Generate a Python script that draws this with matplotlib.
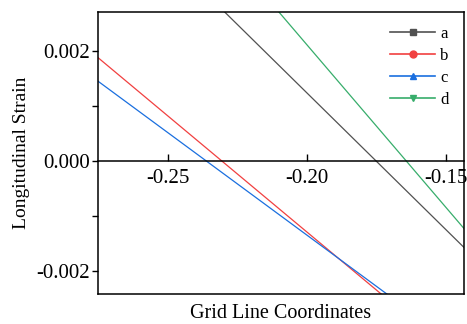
import matplotlib
matplotlib.use("Agg")
import matplotlib.pyplot as plt
from matplotlib.lines import Line2D
from matplotlib.ticker import FormatStrFormatter, MultipleLocator

plt.rcParams['font.family'] = ['Liberation Serif', 'DejaVu Serif']
plt.rcParams['axes.unicode_minus'] = False

# data (straight lines, endpoints)
x_vals = [-0.28, -0.14]
series_names = ['a', 'b', 'c', 'd']
a_vals = [0.00519, -0.00174]
b_vals = [0.00207, -0.00381]
c_vals = [0.00162, -0.00357]
d_vals = [0.00681, -0.00143]
colors = ['#515151', '#F14040', '#1A6FDF', '#37AD6B']
markers = ['s', 'o', '^', 'v']
x_ticks = [-0.25, -0.20, -0.15]
y_ticks = [-0.002, 0.0, 0.002]

fig = plt.figure(figsize=(4.67, 3.24), dpi=100)
ax = fig.add_axes([0.2099, 0.0926, 0.9936 - 0.2099, 0.963 - 0.0926])

for vals, col in zip([a_vals, b_vals, c_vals, d_vals], colors):
    ax.plot(x_vals, vals, color=col, lw=0.9)

ax.set_xlim(-0.2753, -0.1435)
ax.set_ylim(-0.00241, 0.0027)

# spines
ax.spines['bottom'].set_position(('data', 0))
for s in ax.spines.values():
    s.set_linewidth(1.1)
    s.set_color('black')
# bottom frame line
ax.plot([0, 1], [0, 0], transform=ax.transAxes, color='black', lw=1.1,
        clip_on=False, solid_capstyle='projecting')

ax.set_xticks(x_ticks)
ax.set_yticks(y_ticks)
ax.yaxis.set_minor_locator(MultipleLocator(0.001))
ax.xaxis.set_major_formatter(FormatStrFormatter('%.2f'))
ax.yaxis.set_major_formatter(FormatStrFormatter('%.3f'))
ax.tick_params(axis='x', direction='in', length=5, width=1, labelsize=15, pad=6)
ax.tick_params(axis='y', which='both', direction='out', length=4, width=1, labelsize=15, pad=2)

ax.set_xlabel('Grid Line Coordinates', fontsize=14.5)
ax.xaxis.label.set_va('center')
ax.xaxis.set_label_coords(0.5, -0.068)
ax.set_ylabel('Longitudinal Strain', fontsize=14)
ax.yaxis.label.set_va('center')
ax.yaxis.set_label_coords(-0.21, 0.5)

handles = [Line2D([], [], color=c, marker=m, markersize=5, lw=1.2) for c, m in zip(colors, markers)]
ax.legend(handles, series_names, loc='upper right', bbox_to_anchor=(0.985, 0.985),
          frameon=False, fontsize=12, handlelength=2.7, handletextpad=0.3,
          labelspacing=0.35, borderaxespad=0.2)

fig.savefig('out.png', dpi=100)
